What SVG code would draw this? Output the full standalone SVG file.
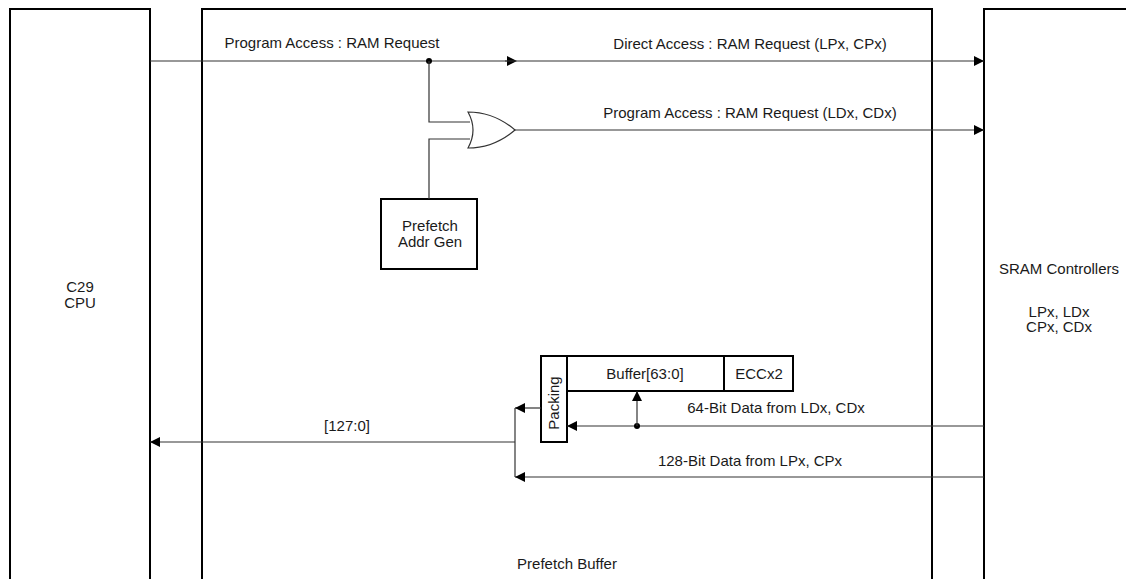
<svg xmlns="http://www.w3.org/2000/svg" width="1126" height="579" viewBox="0 0 1126 579">
<defs>
<style>
.box{fill:none;stroke:#000;stroke-width:2}
.wire{fill:none;stroke:#333;stroke-width:1.2}
text{font-family:"Liberation Sans",Arial,sans-serif;font-size:15px;fill:#1a1a1a;text-anchor:middle}
</style>
<marker id="ah" viewBox="0 0 10 10" refX="10" refY="5" markerWidth="10" markerHeight="10" markerUnits="userSpaceOnUse" orient="auto">
<path d="M0,0 L10,5 L0,10 Z" fill="#000"/>
</marker>
<marker id="mid" viewBox="0 0 10 10" refX="5" refY="5" markerWidth="10" markerHeight="10" markerUnits="userSpaceOnUse" orient="auto">
<path d="M0,0 L10,5 L0,10 Z" fill="#000"/>
</marker>
</defs>
<g id="cpu">
<path class="box" d="M10,580 V9 H150 V580"/>
<text x="80" y="292">C29</text>
<text x="80" y="308">CPU</text>
</g>
<g id="prefetch-buffer">
<path class="box" d="M202,580 V9 H932 V580"/>
<text x="567" y="569">Prefetch Buffer</text>
</g>
<g id="sram">
<path class="box" d="M984,580 V9 H1130"/>
<text x="1059" y="274">SRAM Controllers</text>
<text x="1059" y="317">LPx, LDx</text>
<text x="1059" y="332">CPx, CDx</text>
</g>
<g id="addr-gen">
<rect class="box" x="381" y="199" width="96" height="70"/>
<text x="430" y="231">Prefetch</text>
<text x="430" y="247">Addr Gen</text>
</g>
<g id="or-gate">
<path d="M468,112 Q494,112 515,130 Q494,148 468,148 Q478,130 468,112 Z" fill="#fff" stroke="#333" stroke-width="1.2"/>
</g>
<g id="packing">
<rect class="box" x="541" y="356" width="26" height="86"/>
<text transform="translate(559,403) rotate(-90)">Packing</text>
</g>
<g id="buffer">
<rect class="box" x="567" y="356" width="157" height="35"/>
<text x="645" y="379">Buffer[63:0]</text>
</g>
<g id="ecc">
<rect class="box" x="724" y="356" width="69" height="35"/>
<text x="759" y="379">ECCx2</text>
</g>
<g id="connectors">
<path class="wire" d="M150,61 H512" marker-end="url(#mid)"/>
<path class="wire" d="M505,61 H984" marker-end="url(#ah)"/>
<circle cx="429" cy="61" r="3" fill="#000"/>
<path class="wire" d="M429,61 V122 H470"/>
<path class="wire" d="M429,199 V139 H470"/>
<path class="wire" d="M515,130 H984" marker-end="url(#ah)"/>
<path class="wire" d="M984,426 H567" marker-end="url(#ah)"/>
<circle cx="637" cy="426" r="3" fill="#000"/>
<path class="wire" d="M637,426 V391" marker-end="url(#ah)"/>
<path class="wire" d="M541,408 H515" marker-end="url(#ah)"/>
<path class="wire" d="M515,408 V477"/>
<path class="wire" d="M984,477 H515" marker-end="url(#ah)"/>
<path class="wire" d="M515,442 H150" marker-end="url(#ah)"/>
<text x="332" y="48">Program Access : RAM Request</text>
<text x="750" y="49">Direct Access : RAM Request (LPx, CPx)</text>
<text x="750" y="118">Program Access : RAM Request (LDx, CDx)</text>
<text x="776" y="413">64-Bit Data from LDx, CDx</text>
<text x="750" y="466">128-Bit Data from LPx, CPx</text>
<text x="347" y="431">[127:0]</text>
</g>
</svg>
